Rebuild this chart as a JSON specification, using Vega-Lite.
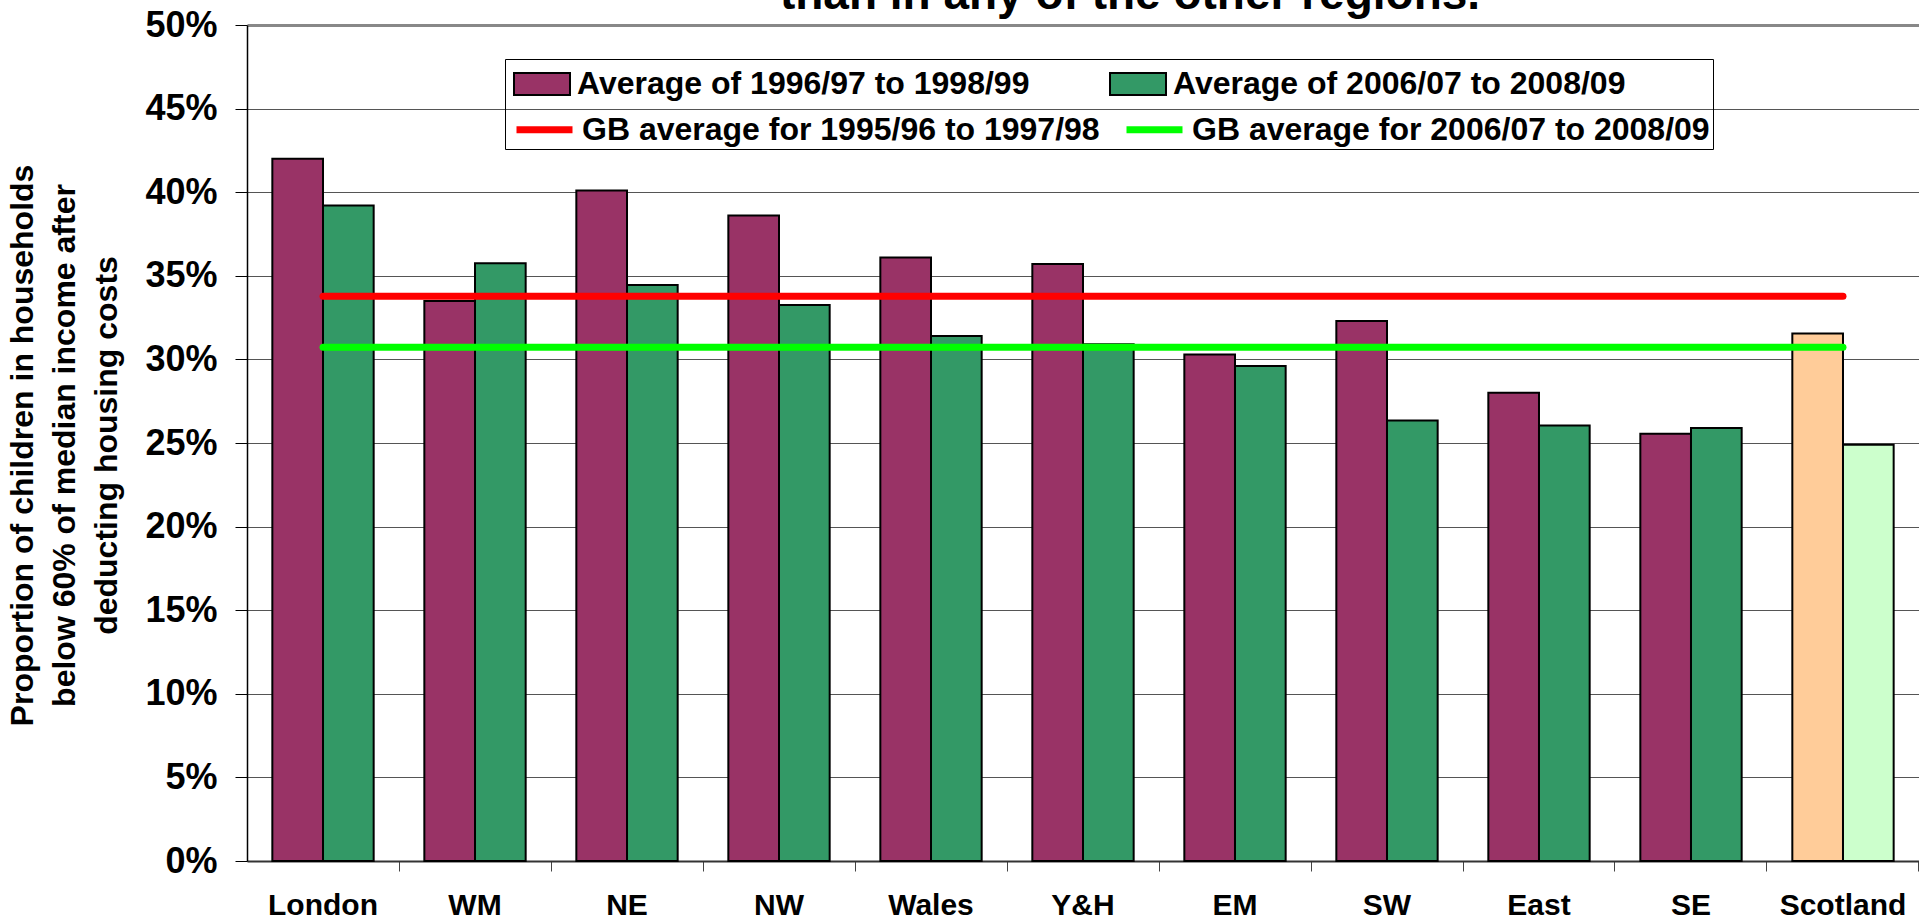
{
  "$schema": "https://vega.github.io/schema/vega-lite/v6.json",
  "width": 1672,
  "height": 836,
  "autosize": {"type": "none"},
  "padding": {"left": 247, "top": 25, "right": 0, "bottom": 62},
  "background": "white",
  "config": {"view": {"stroke": null}, "font": "Liberation Sans"},
  "title": {
    "text": "than in any of the other regions.",
    "fontSize": 46,
    "font": "Liberation Sans",
    "fontWeight": "bold",
    "color": "black",
    "anchor": "middle",
    "frame": "group",
    "dx": 47,
    "baseline": "top",
    "offset": -12
  },
  "resolve": {"scale": {"color": "independent"}},
  "datasets": {
    "bars": [
      {"region": "London", "series": "Average of 1996/97 to 1998/99", "value": 0.420},
      {"region": "London", "series": "Average of 2006/07 to 2008/09", "value": 0.392},
      {"region": "WM", "series": "Average of 1996/97 to 1998/99", "value": 0.335},
      {"region": "WM", "series": "Average of 2006/07 to 2008/09", "value": 0.3575},
      {"region": "NE", "series": "Average of 1996/97 to 1998/99", "value": 0.401},
      {"region": "NE", "series": "Average of 2006/07 to 2008/09", "value": 0.3445},
      {"region": "NW", "series": "Average of 1996/97 to 1998/99", "value": 0.386},
      {"region": "NW", "series": "Average of 2006/07 to 2008/09", "value": 0.3325},
      {"region": "Wales", "series": "Average of 1996/97 to 1998/99", "value": 0.361},
      {"region": "Wales", "series": "Average of 2006/07 to 2008/09", "value": 0.314},
      {"region": "Y&H", "series": "Average of 1996/97 to 1998/99", "value": 0.357},
      {"region": "Y&H", "series": "Average of 2006/07 to 2008/09", "value": 0.309},
      {"region": "EM", "series": "Average of 1996/97 to 1998/99", "value": 0.303},
      {"region": "EM", "series": "Average of 2006/07 to 2008/09", "value": 0.296},
      {"region": "SW", "series": "Average of 1996/97 to 1998/99", "value": 0.323},
      {"region": "SW", "series": "Average of 2006/07 to 2008/09", "value": 0.2635},
      {"region": "East", "series": "Average of 1996/97 to 1998/99", "value": 0.280},
      {"region": "East", "series": "Average of 2006/07 to 2008/09", "value": 0.2605},
      {"region": "SE", "series": "Average of 1996/97 to 1998/99", "value": 0.2555},
      {"region": "SE", "series": "Average of 2006/07 to 2008/09", "value": 0.259},
      {"region": "Scotland", "series": "Average of 1996/97 to 1998/99", "value": 0.3155},
      {"region": "Scotland", "series": "Average of 2006/07 to 2008/09", "value": 0.249}
    ],
    "gb": [
      {"series": "GB average for 1995/96 to 1997/98", "value": 0.3377, "from": "London", "to": "Scotland"},
      {"series": "GB average for 2006/07 to 2008/09", "value": 0.3072, "from": "London", "to": "Scotland"}
    ]
  },
  "layer": [
    {
      "data": {"name": "bars"},
      "mark": {"type": "bar", "stroke": "black", "strokeWidth": 2},
      "encoding": {
        "x": {
          "field": "region",
          "type": "nominal",
          "sort": null,
          "scale": {
            "domain": ["London", "WM", "NE", "NW", "Wales", "Y&H", "EM", "SW", "East", "SE", "Scotland"],
            "paddingInner": 0.3333,
            "paddingOuter": 0.1667
          },
          "axis": {
            "title": null,
            "labelAngle": 0,
            "labelFont": "Liberation Sans",
            "labelFontSize": 30,
            "labelFontWeight": "bold",
            "labelColor": "black",
            "labelPadding": 19,
            "tickSize": 10,
            "tickColor": "#444",
            "tickWidth": 1,
            "bandPosition": 1.25,
            "tickExtra": false,
            "domainColor": "#333",
            "domainWidth": 2,
            "grid": false,
            "labelLimit": 0
          }
        },
        "xOffset": {
          "field": "series",
          "type": "nominal",
          "sort": ["Average of 1996/97 to 1998/99", "Average of 2006/07 to 2008/09"],
          "scale": {"paddingInner": 0, "paddingOuter": 0}
        },
        "y": {
          "field": "value",
          "type": "quantitative",
          "scale": {"domain": [0, 0.5], "nice": false},
          "axis": {
            "format": ".0%",
            "values": [0, 0.05, 0.1, 0.15, 0.2, 0.25, 0.3, 0.35, 0.4, 0.45, 0.5],
            "labelFont": "Liberation Sans",
            "labelFontSize": 36,
            "labelFontWeight": "bold",
            "labelColor": "black",
            "labelPadding": 18,
            "labelOverlap": false,
            "labelFlush": false,
            "labelBound": false,
            "tickSize": 12,
            "tickColor": "black",
            "domainColor": "black",
            "domainWidth": 1.5,
            "grid": true,
            "gridColor": {"condition": {"test": "datum.value === 0.5", "value": "#888"}, "value": "#555"},
            "gridWidth": {"condition": {"test": "datum.value === 0.5", "value": 3}, "value": 1.2},
            "title": ["Proportion of children in households", "below 60% of median income after", "deducting housing costs"],
            "titleFont": "Liberation Sans",
            "titleFontSize": 32,
            "titleFontWeight": "bold",
            "titleColor": "black",
            "titleAngle": -90,
            "titleAlign": "center",
            "titleBaseline": "middle",
            "titleLineHeight": 42,
            "titleX": -225,
            "titleY": 420
          }
        },
        "color": {
          "condition": [
            {"test": "datum.region === 'Scotland' && datum.series === 'Average of 1996/97 to 1998/99'", "value": "#FFCC99"},
            {"test": "datum.region === 'Scotland' && datum.series === 'Average of 2006/07 to 2008/09'", "value": "#CCFFCC"}
          ],
          "field": "series",
          "type": "nominal",
          "scale": {
            "domain": ["Average of 1996/97 to 1998/99", "Average of 2006/07 to 2008/09"],
            "range": ["#993366", "#339966"]
          },
          "legend": {
            "title": null,
            "orient": "none",
            "direction": "horizontal",
            "legendX": 261,
            "legendY": 35,
            "columns": 2,
            "columnPadding": 76,
            "padding": 6,
            "fillColor": "white",
            "labelFont": "Liberation Sans",
            "labelFontSize": 32,
            "labelFontWeight": "bold",
            "labelColor": "black",
            "labelLimit": 0,
            "labelOffset": 17,
            "symbolOffset": 10,
            "symbolSize": 1156,
            "symbolType": "M-1.647,-0.647H1.647V0.647H-1.647Z",
            "symbolStrokeColor": "black",
            "symbolStrokeWidth": 2,
            "symbolOpacity": 1
          }
        }
      }
    },
    {
      "data": {"name": "gb"},
      "mark": {"type": "rule", "strokeWidth": 7, "strokeCap": "round"},
      "encoding": {
        "x": {"field": "from", "type": "nominal"},
        "x2": {"field": "to"},
        "y": {"field": "value", "type": "quantitative"},
        "color": {
          "field": "series",
          "type": "nominal",
          "scale": {
            "domain": ["GB average for 1995/96 to 1997/98", "GB average for 2006/07 to 2008/09"],
            "range": ["#FF0000", "#00FF00"]
          },
          "legend": {
            "title": "GB",
            "titleColor": "transparent",
            "titleFontSize": 32,
            "titlePadding": 15,
            "titleOrient": "top",
            "orient": "none",
            "direction": "horizontal",
            "legendX": 258,
            "legendY": 34,
            "columns": 2,
            "columnPadding": 12,
            "padding": 3,
            "strokeColor": "black",
            "labelFont": "Liberation Sans",
            "labelFontSize": 32,
            "labelFontWeight": "bold",
            "labelColor": "black",
            "labelLimit": 0,
            "labelOffset": 17,
            "symbolOffset": 16,
            "symbolSize": 1156,
            "symbolType": "M-1.647,0H1.647",
            "symbolStrokeWidth": 7,
            "symbolOpacity": 1
          }
        }
      }
    }
  ]
}
